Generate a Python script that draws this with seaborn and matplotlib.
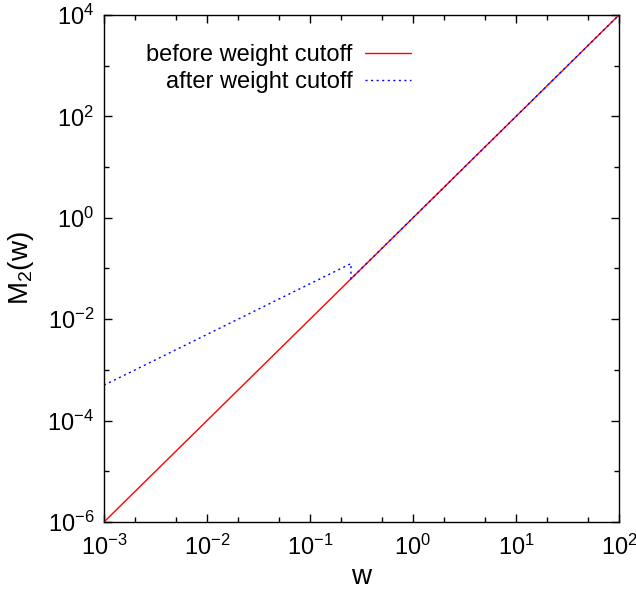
import matplotlib
matplotlib.use("Agg")
import matplotlib.pyplot as plt
import matplotlib.ticker as mticker
import seaborn as sns

# Second moment M2(w) before and after applying the weight cutoff
w_before = [1e-3, 1e2]
m2_before = [1e-6, 1e4]

w_after = [1e-3, 0.25, 0.25, 1e2]
m2_after = [5e-4, 0.125, 0.0625, 1e4]

label_before = "before weight cutoff"
label_after = "after weight cutoff"

sns.set_style("ticks")
plt.rcParams["font.family"] = ["Liberation Sans", "DejaVu Sans"]
plt.rcParams["mathtext.fontset"] = "custom"
plt.rcParams["mathtext.rm"] = "Liberation Sans"
plt.rcParams["mathtext.it"] = "Liberation Sans"
plt.rcParams["mathtext.bf"] = "Liberation Sans:bold"
plt.rcParams["axes.unicode_minus"] = False
plt.rcParams["text.color"] = "black"
plt.rcParams["axes.labelcolor"] = "black"

fig = plt.figure(figsize=(6.36, 5.94), dpi=100)
ax = fig.add_axes([104 / 636, 1 - 522 / 594, (619 - 104) / 636, (522 - 15) / 594])

sns.lineplot(x=w_before, y=m2_before, ax=ax, color="#ff0000", lw=1.0,
             estimator=None, sort=False, label=label_before)
sns.lineplot(x=w_after, y=m2_after, ax=ax, color="#0000ff", lw=1.0,
             estimator=None, sort=False, label=label_after)
ax.lines[1].set_linestyle((0, (1.5, 2.5)))

ax.set_xscale("log")
ax.set_yscale("log")
ax.set_xlim(1e-3, 1e2)
ax.set_ylim(1e-6, 1e4)

ax.xaxis.set_major_locator(mticker.LogLocator(base=10, numticks=20))
ax.xaxis.set_minor_locator(mticker.LogLocator(base=10, subs=(2, 5), numticks=20))
ax.xaxis.set_minor_formatter(mticker.NullFormatter())

ax.yaxis.set_major_locator(mticker.FixedLocator([1e-6, 1e-4, 1e-2, 1e0, 1e2, 1e4]))
ax.yaxis.set_minor_locator(mticker.FixedLocator([1e-5, 1e-3, 1e-1, 1e1, 1e3]))
ax.yaxis.set_major_formatter(mticker.LogFormatterSciNotation())
ax.yaxis.set_minor_formatter(mticker.NullFormatter())

ax.tick_params(which="both", direction="in", top=True, right=True,
               labelsize=17, colors="black", width=1.0)
ax.tick_params(which="major", length=6)
ax.tick_params(axis="x", which="major", pad=9)
ax.tick_params(axis="y", which="major", pad=7)
ax.tick_params(which="minor", length=3.5)
for s in ax.spines.values():
    s.set_visible(True)
    s.set_linewidth(1.0)
    s.set_color("black")

ax.set_xlabel("w", fontsize=20, labelpad=3, color="black")
ax.set_ylabel("M$_2$(w)", fontsize=20, labelpad=8, color="black")

leg = ax.legend(loc="upper left", bbox_to_anchor=(0.064, 0.961), frameon=False,
                markerfirst=False, fontsize=17, handlelength=1.95,
                handletextpad=0.5, labelspacing=0.22, borderaxespad=0,
                labelcolor="black")

fig.savefig("out.png", dpi=100)
